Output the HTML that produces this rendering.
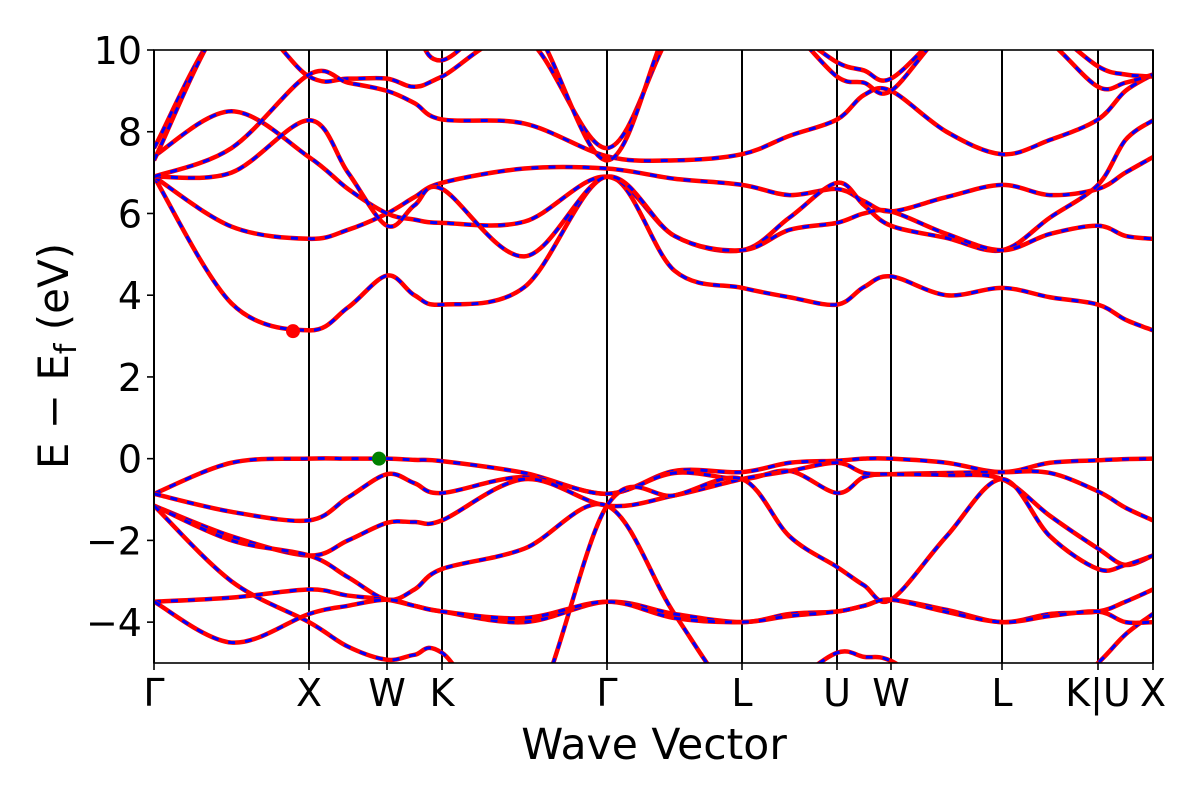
<!DOCTYPE html>
<html><head><meta charset="utf-8"><style>
html,body{margin:0;padding:0;background:#fff;}
svg{display:block;font-family:"DejaVu Sans","Liberation Sans",sans-serif;}
</style></head><body>
<svg id="chart" width="1200" height="800" viewBox="0 0 1200 800" xmlns="http://www.w3.org/2000/svg">
<defs><clipPath id="plotclip"><rect x="154" y="50" width="999" height="613"/></clipPath></defs>
<rect x="0" y="0" width="1200" height="800" fill="#fff"/>
<g id="vlines"></g>
<g id="bands" clip-path="url(#plotclip)"></g>
<g id="axes"></g>
<text x="654" y="759" font-size="42.5" text-anchor="middle">Wave Vector</text>
<text transform="translate(68,356) rotate(-90)" font-size="42" text-anchor="middle">E − E<tspan font-size="30" dy="8">f</tspan><tspan dy="-8"> (eV)</tspan></text>
</svg>
<script>
// High-symmetry path
const tickLabels = ["Γ","X","W","K","Γ","L","U","W","L","K|U","X"];
const tickK = [0, 1.55, 2.33, 2.88, 4.53, 5.88, 6.83, 7.37, 8.48, 9.44, 9.99];
// sample grid: ticks + segment midpoints
const kGrid = [0,0.775,1.55,1.94,2.33,2.605,2.88,3.705,4.53,5.205,5.88,6.355,6.83,7.10,7.37,7.925,8.48,8.96,9.44,9.715,9.99];
const yTicks = [-4,-2,0,2,4,6,8,10];
// band energies (eV) at kGrid
const bandC1 = [6.9,3.8,3.14,3.7,4.48,4.0,3.77,4.2,6.9,4.6,4.18,3.95,3.77,4.2,4.46,4.0,4.18,3.95,3.77,3.4,3.14];
const bandC2 = [6.9,5.68,5.38,5.6,6.0,6.4,6.75,7.1,7.1,6.85,6.7,6.45,6.6,6.3,6.05,6.4,6.7,6.45,6.6,7.0,7.38];
const bandC3 = [7.4,8.5,7.38,6.6,6.0,5.85,5.77,5.8,6.9,5.45,5.1,5.9,6.75,6.2,5.7,5.4,5.1,5.9,6.7,7.8,8.28];
const bandC4 = [6.9,7.0,8.28,7.0,5.7,6.2,6.6,4.95,6.9,5.45,5.1,5.6,5.77,6.0,6.05,5.5,5.1,5.5,5.7,5.45,5.38];
const bandC5 = [7.6,10.8,9.35,9.3,9.3,9.1,9.35,10.3,7.6,10.5,11,10.5,9.7,9.5,9.3,10.5,11,10.5,9.6,9.4,9.35];
const bandC6 = [6.9,7.6,9.4,9.2,9.0,8.7,8.3,8.2,7.4,7.3,7.45,7.9,8.3,8.9,9.0,8.0,7.45,7.8,8.3,9.0,9.4];
const bandC7 = [7.3,11,11,11,11,10.5,9.75,10.8,7.3,10.8,11,10.5,9.35,9.2,9.0,10.5,11,10.2,9.1,9.2,9.4];
const bandV1 = [-0.86,-0.1,0,0,0,-0.03,-0.06,-0.35,-0.86,-0.3,-0.33,-0.1,-0.05,0,0,-0.1,-0.33,-0.1,-0.04,-0.01,0];
const bandV2 = [-0.86,-1.3,-1.51,-0.95,-0.38,-0.6,-0.84,-0.45,-0.86,-0.35,-0.5,-0.3,-0.84,-0.45,-0.38,-0.35,-0.33,-0.35,-0.8,-1.2,-1.51];
const bandV3 = [-1.15,-1.9,-2.37,-2.0,-1.57,-1.55,-1.51,-0.5,-1.15,-0.9,-0.5,-0.3,-0.1,-0.35,-0.38,-0.4,-0.5,-1.4,-2.2,-2.6,-2.37];
const bandV4 = [-1.15,-2.0,-2.37,-2.9,-3.45,-3.2,-2.7,-2.2,-1.15,-3.8,-6,-5.5,-4.75,-4.85,-4.95,-5.8,-6.5,-6,-5,-4.3,-3.8];
const bandV5 = [-1.15,-3.0,-4.0,-4.6,-4.92,-4.8,-4.75,-6.5,-1.15,-0.9,-0.5,-1.9,-2.65,-3.1,-3.45,-1.9,-0.5,-1.9,-2.7,-2.6,-2.37];
const bandV6 = [-3.5,-3.4,-3.2,-3.35,-3.45,-3.6,-3.74,-4.0,-3.5,-3.8,-4.0,-3.8,-3.74,-3.6,-3.45,-3.7,-4.0,-3.8,-3.74,-3.5,-3.2];
const bandV7 = [-3.5,-4.5,-3.8,-3.6,-3.45,-3.6,-3.74,-3.9,-3.5,-3.9,-4.0,-3.85,-3.74,-3.6,-3.45,-3.75,-4.0,-3.85,-3.74,-4.0,-4.0];
const bands = [bandC1,bandC2,bandC3,bandC4,bandC5,bandC6,bandC7,bandV1,bandV2,bandV3,bandV4,bandV5,bandV6,bandV7];
const cbmPoint = [1.39, 3.12];
const vbmPoint = [2.25, 0.0];

const NS="http://www.w3.org/2000/svg";
const X0=154,X1=1153,Y0=663,Y1=50,KMAX=9.99,EMIN=-5,EMAX=10;
const xs=k=>X0+(k/KMAX)*(X1-X0);
const ys=e=>Y0-(e-EMIN)/(EMAX-EMIN)*(Y0-Y1);
function mk(tag,attrs,parent){const el=document.createElementNS(NS,tag);for(const a in attrs)el.setAttribute(a,attrs[a]);parent.appendChild(el);return el;}

const vl=document.getElementById('vlines');
tickK.forEach((k,i)=>{
  const l=mk('line',{x1:xs(k),x2:xs(k),y1:Y1,y2:Y0,stroke:'#000','stroke-width':2},vl);
  
  
});

function pathFor(vals){
  const pts=kGrid.map((k,i)=>[xs(k),ys(vals[i])]);
  let d='M'+pts[0][0]+','+pts[0][1];
  for(let i=0;i<pts.length-1;i++){
    const p0=pts[Math.max(0,i-1)],p1=pts[i],p2=pts[i+1],p3=pts[Math.min(pts.length-1,i+2)];
    const c1=[p1[0]+(p2[0]-p0[0])/6,p1[1]+(p2[1]-p0[1])/6];
    const c2=[p2[0]-(p3[0]-p1[0])/6,p2[1]-(p3[1]-p1[1])/6];
    d+=' C'+c1[0]+','+c1[1]+' '+c2[0]+','+c2[1]+' '+p2[0]+','+p2[1];
  }
  return d;
}
const bg=document.getElementById('bands');
bands.forEach((b,i)=>{
  const d=pathFor(b);
  const r=mk('path',{d:d,fill:'none',stroke:'#ff0000','stroke-width':4.5,'stroke-linejoin':'round'},bg);
  
  
  const bl=mk('path',{d:d,fill:'none',stroke:'#0000ff','stroke-width':3,'stroke-dasharray':'7 10'},bg);
  
  
});
const cbm=mk('circle',{cx:xs(cbmPoint[0]),cy:ys(cbmPoint[1]),r:7,fill:'#ff0000'},bg);


const vbm=mk('circle',{cx:xs(vbmPoint[0]),cy:ys(vbmPoint[1]),r:7,fill:'#008000'},bg);



const ax=document.getElementById('axes');
const fr=mk('rect',{x:X0,y:Y1,width:X1-X0,height:Y0-Y1,fill:'none',stroke:'#000','stroke-width':1.6},ax);


yTicks.forEach(v=>{
  const t=mk('line',{x1:X0-7,x2:X0,y1:ys(v),y2:ys(v),stroke:'#000','stroke-width':1.6},ax);
  
  
  const tx=mk('text',{x:X0-12,y:ys(v)+14,'font-size':38,'text-anchor':'end'},ax);
  tx.textContent=(v<0?'−'+Math.abs(v):String(v));
  
  
});
tickK.forEach((k,i)=>{
  const t=mk('line',{x1:xs(k),x2:xs(k),y1:Y0,y2:Y0+7,stroke:'#000','stroke-width':1.6},ax);
  
  
  const tx=mk('text',{x:xs(k),y:706,'font-size':38,'text-anchor':'middle'},ax);
  tx.textContent=tickLabels[i];
  
  
});
</script>
</body></html>
